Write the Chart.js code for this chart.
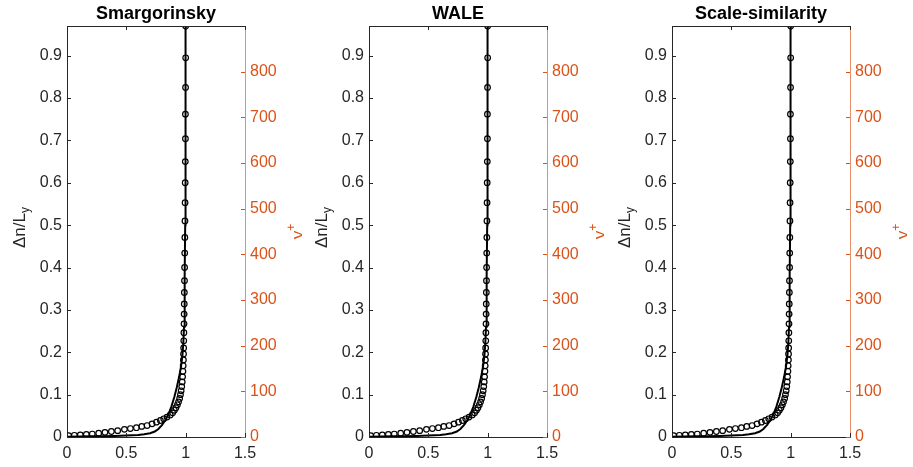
<!DOCTYPE html>
<html>
<head>
<meta charset="utf-8">
<script src="https://cdn.jsdelivr.net/npm/chart.js@4"></script>
<style>
  body { margin: 0; background: #fff; }
  #wrap { position: relative; width: 913px; height: 467px; }
  canvas { position: absolute; top: 0; }
</style>
</head>
<body>
<div id="wrap">
  <canvas id="c0" width="302" height="467" style="left:0px"></canvas>
  <canvas id="c1" width="302" height="467" style="left:302px"></canvas>
  <canvas id="c2" width="302" height="467" style="left:605px"></canvas>
</div>
<script>
// panel titles
const panelTitles = ["Smargorinsky", "WALE", "Scale-similarity"];

// tick values
const xTicks = [0, 0.5, 1, 1.5];
const leftTicks = [0, 0.1, 0.2, 0.3, 0.4, 0.5, 0.6, 0.7, 0.8, 0.9];
const rightTicks = [0, 100, 200, 300, 400, 500, 600, 700, 800];

// grid points (circles)
const gridX = [0.014, 0.062, 0.112, 0.163, 0.213, 0.267, 0.320, 0.374, 0.427, 0.484,
  0.534, 0.585, 0.630, 0.675, 0.717, 0.754, 0.787, 0.815, 0.843, 0.870,
  0.890, 0.905, 0.918, 0.930, 0.940, 0.949, 0.956, 0.962, 0.967, 0.971,
  0.974, 0.977, 0.979, 0.981, 0.982, 0.983, 0.984, 0.985, 0.986, 0.987,
  0.988, 0.989, 0.990, 0.991, 0.992, 0.993, 0.994, 0.995, 0.996, 0.997,
  0.998, 0.998, 0.999, 1.000, 1.000];
const gridY = [0.003, 0.004, 0.005, 0.006, 0.007, 0.009, 0.011, 0.013, 0.015, 0.018,
  0.020, 0.022, 0.025, 0.027, 0.031, 0.035, 0.039, 0.043, 0.047, 0.052,
  0.057, 0.063, 0.069, 0.076, 0.083, 0.091, 0.100, 0.109, 0.119, 0.130,
  0.142, 0.155, 0.168, 0.182, 0.196, 0.210, 0.227, 0.246, 0.267, 0.290,
  0.314, 0.341, 0.369, 0.400, 0.434, 0.471, 0.510, 0.553, 0.600, 0.650,
  0.704, 0.762, 0.825, 0.895, 0.970];

// solid profile
const lineX = [0, 0.1, 0.2, 0.3, 0.4, 0.5, 0.6, 0.65, 0.7, 0.74, 0.77, 0.80, 0.83, 0.855,
  0.88, 0.905, 0.925, 0.945, 0.96, 0.972, 0.98, 0.986, 0.99, 0.993, 0.996, 0.998, 0.999, 1.0];
const lineY = [0.0005, 0.001, 0.0015, 0.002, 0.0025, 0.0035, 0.005, 0.0065, 0.009, 0.013,
  0.019, 0.028, 0.040, 0.054, 0.072, 0.095, 0.117, 0.142, 0.165, 0.19, 0.22, 0.26, 0.31,
  0.38, 0.5, 0.65, 0.8, 0.97];

const FONT = "'Liberation Sans', Arial, Helvetica, sans-serif";
const DARK = "#262626";
const ORANGE = "#D95319";

const fmt = v => String(Math.round(v * 10) / 10);

// box, inward ticks, axis titles and panel title
const decor = {
  id: "decor",
  afterDraw(chart, args, opts) {
    const { ctx, chartArea: a, scales } = chart;
    const tl = 4;
    const seg = (x1, y1, x2, y2) => { ctx.beginPath(); ctx.moveTo(x1, y1); ctx.lineTo(x2, y2); ctx.stroke(); };
    ctx.save();
    ctx.lineWidth = 1;
    ctx.strokeStyle = DARK;
    seg(a.left, Math.round(a.top) + 0.5, a.right, Math.round(a.top) + 0.5);
    xTicks.forEach(v => {
      const px = Math.round(scales.x.getPixelForValue(v)) + 0.5;
      seg(px, a.bottom, px, a.bottom - tl);
      seg(px, a.top, px, a.top + tl);
    });
    leftTicks.forEach(v => {
      const py = Math.round(scales.y.getPixelForValue(v)) + 0.5;
      seg(a.left, py, a.left + tl, py);
    });
    ctx.strokeStyle = ORANGE;
    rightTicks.forEach(v => {
      const py = Math.round(scales.y1.getPixelForValue(v)) + 0.5;
      seg(a.right, py, a.right - tl, py);
    });

    const midY = (a.top + a.bottom) / 2;
    // left axis title  Δn/L_y
    ctx.save();
    ctx.translate(19, midY - 4);
    ctx.rotate(-Math.PI / 2);
    ctx.fillStyle = DARK;
    ctx.textBaseline = "alphabetic";
    ctx.font = "17px " + FONT;
    const w1 = ctx.measureText("\u0394n/L").width;
    ctx.font = "12px " + FONT;
    const w2 = ctx.measureText("y").width;
    const s = -(w1 + w2) / 2;
    ctx.font = "17px " + FONT;
    ctx.fillText("\u0394n/L", s, 6);
    ctx.font = "12px " + FONT;
    ctx.fillText("y", s + w1, 10);
    ctx.restore();

    // right axis title  y^+
    ctx.save();
    ctx.translate(298, midY);
    ctx.rotate(-Math.PI / 2);
    ctx.fillStyle = ORANGE;
    ctx.font = "17px " + FONT;
    const w3 = ctx.measureText("y").width;
    ctx.font = "12px " + FONT;
    const w4 = ctx.measureText("+").width;
    const s2 = -(w3 + w4) / 2;
    ctx.font = "17px " + FONT;
    ctx.fillText("y", s2, 5);
    ctx.font = "12px " + FONT;
    ctx.fillText("+", s2 + w3, -3);
    ctx.restore();

    // panel title
    ctx.fillStyle = "#000";
    ctx.font = "bold 18px " + FONT;
    ctx.textAlign = "center";
    ctx.fillText(opts.text, (a.left + a.right) / 2, 18.5);
    ctx.restore();
  }
};

function makePanel(id, title) {
  new Chart(document.getElementById(id), {
    type: "scatter",
    data: {
      datasets: [
        {
          data: lineX.map((x, i) => ({ x: x, y: lineY[i] })),
          showLine: true,
          borderColor: "#000",
          borderWidth: 2,
          pointRadius: 0,
          tension: 0
        },
        {
          data: gridX.map((x, i) => ({ x: x, y: gridY[i] })),
          showLine: false,
          pointRadius: 2.8,
          pointBorderWidth: 1.2,
          pointBorderColor: "#000",
          pointBackgroundColor: "rgba(0,0,0,0)"
        }
      ]
    },
    options: {
      responsive: false,
      animation: false,
      events: [],
      layout: { padding: { top: 26, left: 0, right: 0, bottom: 0 } },
      plugins: {
        legend: { display: false },
        tooltip: { enabled: false },
        decor: { text: title }
      },
      scales: {
        x: {
          type: "linear", position: "bottom", min: 0, max: 1.5,
          afterBuildTicks: s => { s.ticks = xTicks.map(v => ({ value: v })); },
          afterFit: s => { s.height = 30; },
          grid: { display: false, drawTicks: false },
          border: { color: DARK, width: 1 },
          ticks: { padding: 7, color: DARK, font: { family: FONT, size: 16 }, callback: fmt, maxRotation: 0 }
        },
        y: {
          type: "linear", position: "left", min: 0, max: 0.97,
          afterBuildTicks: s => { s.ticks = leftTicks.map(v => ({ value: v })); },
          afterFit: s => { s.width = 67; },
          grid: { display: false, drawTicks: false },
          border: { color: DARK, width: 1 },
          ticks: { padding: 5, color: DARK, font: { family: FONT, size: 16 }, callback: fmt }
        },
        y1: {
          type: "linear", position: "right", min: 0, max: 900,
          afterBuildTicks: s => { s.ticks = rightTicks.map(v => ({ value: v })); },
          afterFit: s => { s.width = 57; },
          grid: { display: false, drawTicks: false },
          border: { color: "rgba(217,83,25,0.65)", width: 1 },
          ticks: { padding: 5, color: ORANGE, font: { family: FONT, size: 16 } }
        }
      }
    },
    plugins: [decor]
  });
}

panelTitles.forEach((t, i) => makePanel("c" + i, t));
</script>
</body>
</html>
